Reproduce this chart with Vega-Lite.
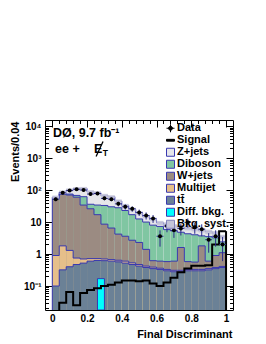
{
  "$schema": "https://vega.github.io/schema/vega-lite/v6.json",
  "width": 188,
  "height": 190,
  "autosize": {"type": "none"},
  "padding": {"left": 45, "top": 120, "right": 33, "bottom": 34},
  "background": "white",
  "config": {
    "view": {"stroke": null},
    "font": "Liberation Sans",
    "axis": {"grid": false, "domainColor": "black", "domainWidth": 1, "tickColor": "black", "tickWidth": 1, "labelColor": "black", "titleColor": "black", "labelFont": "Liberation Sans", "titleFont": "Liberation Sans", "labelFontWeight": "bold", "titleFontWeight": "bold", "zindex": 1, "labelFlush": false, "labelOverlap": false, "labelBound": false},
    "legend": {"orient": "none", "legendX": 120, "legendY": 3, "title": null, "padding": 0, "offset": 0, "labelFont": "Liberation Sans", "labelFontSize": 11, "labelFontWeight": "bold", "labelColor": "black", "labelOffset": 1, "symbolSize": 64, "symbolStrokeWidth": 1, "rowPadding": 0, "clipHeight": 10.5, "labelBaseline": "middle"}
  },
  "data": {"values": [
    {"lo":0,"hi":0.04,"c":0.02,"Z+jets":60,"Diboson":56,"W+jets":54,"Multijet":0.9,"tt̄":0.10,"sig":0.015,"data":52,"dlo":44.8,"dhi":59.2,"slo":52.8,"shi":67.2},
    {"lo":0.04,"hi":0.08,"c":0.06,"Z+jets":86,"Diboson":78,"W+jets":74,"Multijet":1.8,"tt̄":0.32,"sig":0.03,"data":82,"dlo":72.9,"dhi":91.1,"slo":75.7,"shi":96.3},
    {"lo":0.08,"hi":0.12,"c":0.10,"Z+jets":100,"Diboson":75,"W+jets":70,"Multijet":1.3,"tt̄":0.40,"sig":0.065,"data":97,"dlo":87.2,"dhi":106.8,"slo":88,"shi":112},
    {"lo":0.12,"hi":0.16,"c":0.14,"Z+jets":110,"Diboson":68,"W+jets":60,"Multijet":0.75,"tt̄":0.47,"sig":0.025,"data":106,"dlo":95.7,"dhi":116.3,"slo":96.8,"shi":123.2},
    {"lo":0.16,"hi":0.20,"c":0.18,"Z+jets":112,"Diboson":62,"W+jets":34,"Multijet":0.7,"tt̄":0.52,"sig":0.06,"data":100,"dlo":90,"dhi":110,"slo":98.6,"shi":125.4},
    {"lo":0.20,"hi":0.24,"c":0.22,"Z+jets":88,"Diboson":36,"W+jets":26,"Multijet":0.72,"tt̄":0.60,"sig":0.075,"data":75,"dlo":66.3,"dhi":83.7,"slo":77.4,"shi":98.6},
    {"lo":0.24,"hi":0.28,"c":0.26,"Z+jets":82,"Diboson":34,"W+jets":17,"Multijet":0.72,"tt̄":0.63,"sig":0.085,"data":78,"dlo":69.2,"dhi":86.8,"slo":72.2,"shi":91.8},
    {"lo":0.28,"hi":0.32,"c":0.30,"Z+jets":68,"Diboson":33,"W+jets":8.6,"Multijet":0.70,"tt̄":0.62,"sig":0.10,"data":55,"dlo":47.6,"dhi":62.4,"slo":59.8,"shi":76.2},
    {"lo":0.32,"hi":0.36,"c":0.34,"Z+jets":62,"Diboson":30,"W+jets":6.5,"Multijet":0.67,"tt̄":0.60,"sig":0.11,"data":52,"dlo":44.8,"dhi":59.2,"slo":54.6,"shi":69.4},
    {"lo":0.36,"hi":0.40,"c":0.38,"Z+jets":45,"Diboson":28,"W+jets":4.2,"Multijet":0.64,"tt̄":0.57,"sig":0.13,"data":37,"dlo":30.9,"dhi":43.1,"slo":39.6,"shi":50.4},
    {"lo":0.40,"hi":0.44,"c":0.42,"Z+jets":33,"Diboson":23,"W+jets":3.6,"Multijet":0.60,"tt̄":0.52,"sig":0.15,"data":30,"dlo":24.5,"dhi":35.5,"slo":29,"shi":37},
    {"lo":0.44,"hi":0.48,"c":0.46,"Z+jets":25,"Diboson":17,"W+jets":2.7,"Multijet":0.53,"tt̄":0.47,"sig":0.15,"data":26,"dlo":20.9,"dhi":31.1,"slo":22,"shi":28},
    {"lo":0.48,"hi":0.52,"c":0.50,"Z+jets":19,"Diboson":12.5,"W+jets":2.3,"Multijet":0.47,"tt̄":0.42,"sig":0.14,"data":20,"dlo":15.5,"dhi":24.5,"slo":16.7,"shi":21.3},
    {"lo":0.52,"hi":0.56,"c":0.54,"Z+jets":15,"Diboson":10,"W+jets":1.4,"Multijet":0.42,"tt̄":0.38,"sig":0.15,"data":16,"dlo":12,"dhi":20,"slo":13.2,"shi":16.8},
    {"lo":0.56,"hi":0.60,"c":0.58,"Z+jets":12,"Diboson":8,"W+jets":0.62,"Multijet":0.39,"tt̄":0.35,"sig":0.12,"data":13,"dlo":9.4,"dhi":16.6,"slo":10.6,"shi":13.4},
    {"lo":0.60,"hi":0.64,"c":0.62,"Z+jets":9.5,"Diboson":7.3,"W+jets":0.6,"Multijet":0.36,"tt̄":0.33,"sig":0.10,"data":3.6,"dlo":1.7,"dhi":5.5,"slo":8.1,"shi":10.9},
    {"lo":0.64,"hi":0.68,"c":0.66,"Z+jets":8.5,"Diboson":5.8,"W+jets":0.58,"Multijet":0.33,"tt̄":0.30,"sig":0.13,"data":7.5,"dlo":4.8,"dhi":10.2,"slo":7.2,"shi":9.8},
    {"lo":0.68,"hi":0.72,"c":0.70,"Z+jets":7.5,"Diboson":5.3,"W+jets":0.6,"Multijet":0.31,"tt̄":0.28,"sig":0.18,"data":5.5,"dlo":3.2,"dhi":7.9,"slo":6.4,"shi":8.6},
    {"lo":0.72,"hi":0.76,"c":0.74,"Z+jets":7,"Diboson":4.8,"W+jets":1.6,"Multijet":0.31,"tt̄":0.28,"sig":0.27,"data":6.3,"dlo":3.8,"dhi":8.8,"slo":5.9,"shi":8.1},
    {"lo":0.76,"hi":0.80,"c":0.78,"Z+jets":6.5,"Diboson":4.3,"W+jets":0.58,"Multijet":0.33,"tt̄":0.30,"sig":0.35,"data":9.8,"dlo":6.7,"dhi":12.9,"slo":5.5,"shi":7.5},
    {"lo":0.80,"hi":0.84,"c":0.82,"Z+jets":6,"Diboson":4.0,"W+jets":0.56,"Multijet":0.33,"tt̄":0.30,"sig":0.43,"data":6.9,"dlo":4.3,"dhi":9.5,"slo":5.1,"shi":6.9},
    {"lo":0.84,"hi":0.88,"c":0.86,"Z+jets":5.5,"Diboson":3.7,"W+jets":1.8,"Multijet":0.33,"tt̄":0.30,"sig":0.43,"data":6,"dlo":3.6,"dhi":8.5,"slo":4.7,"shi":6.3},
    {"lo":0.88,"hi":0.92,"c":0.90,"Z+jets":5,"Diboson":3.5,"W+jets":0.6,"Multijet":0.35,"tt̄":0.32,"sig":0.45,"data":2.8,"dlo":1.1,"dhi":4.5,"slo":4.2,"shi":5.8},
    {"lo":0.92,"hi":0.96,"c":0.94,"Z+jets":4.5,"Diboson":3.2,"W+jets":0.9,"Multijet":0.38,"tt̄":0.35,"sig":2.0,"data":3.6,"dlo":1.7,"dhi":5.5,"slo":3.8,"shi":5.2},
    {"lo":0.96,"hi":1.00,"c":0.98,"Z+jets":3.5,"Diboson":2.4,"W+jets":1.1,"Multijet":0.41,"tt̄":0.38,"sig":5.2,"data":2.0,"dlo":0.6,"dhi":3.4,"slo":3.0,"shi":4.0}
  ]},
  "resolve": {"axis": {"x": "independent", "y": "independent"}},
  "layer": [
    {
      "transform": [{"fold": ["Z+jets", "Diboson", "W+jets", "Multijet", "tt̄"], "as": ["proc", "n"]}],
      "mark": {"type": "rect", "clip": true},
      "encoding": {
        "x": {"field": "lo", "type": "quantitative", "scale": {"domain": [-0.042, 1.04], "nice": false, "zero": false},
          "axis": {"orient": "bottom", "values": [0,0.04,0.08,0.12,0.16,0.2,0.24,0.28,0.32,0.36,0.4,0.44,0.48,0.52,0.56,0.6,0.64,0.68,0.72,0.76,0.8,0.84,0.88,0.92,0.96,1], "format": "~g",
            "labelExpr": "abs(datum.value*5-round(datum.value*5))<0.000001 ? datum.label : ''",
            "tickSize": {"condition": {"test": "abs(datum.value*5-round(datum.value*5))<0.000001", "value": -7}, "value": -3.5},
            "labelPadding": 10, "labelFontSize": 10,
            "title": "Final Discriminant", "titleFontSize": 11, "titleAlign": "right", "titleBaseline": "alphabetic", "titleX": 187, "titleY": 27}},
        "x2": {"field": "hi"},
        "y": {"field": "n", "type": "quantitative", "stack": null, "scale": {"type": "log", "domain": [0.0178, 15500], "nice": false},
          "axis": {"orient": "left", "values": [0.02,0.03,0.04,0.05,0.06,0.07,0.08,0.09,0.1,0.2,0.3,0.4,0.5,0.6,0.7,0.8,0.9,1,2,3,4,5,6,7,8,9,10,20,30,40,50,60,70,80,90,100,200,300,400,500,600,700,800,900,1000,2000,3000,4000,5000,6000,7000,8000,9000,10000],
            "labelExpr": "abs(log(datum.value)/LN10-round(log(datum.value)/LN10))<0.000001 ? (datum.value > 5000 ? '10⁴' : datum.value > 500 ? '10³' : datum.value > 50 ? '10²' : datum.value > 5 ? '10' : datum.value > 0.5 ? '1' : '10⁻¹') : ''",
            "tickSize": {"condition": {"test": "abs(log(datum.value)/LN10-round(log(datum.value)/LN10))<0.000001", "value": -7}, "value": -3.5},
            "labelPadding": 11, "labelFontSize": 10,
            "title": "Events/0.04", "titleFontSize": 11, "titleAngle": 270, "titleAlign": "right", "titleBaseline": "alphabetic", "titleX": -27, "titleY": 1}},
        "y2": {"datum": 0.0178},
        "color": {"field": "proc", "type": "nominal", "legend": null,
          "scale": {"domain": ["Z+jets", "Diboson", "W+jets", "Multijet", "tt̄"],
                    "range": ["#e6e6ea", "#80c6a2", "#9b8b82", "#e6bf8a", "#6b8196"]}}
      }
    },
    {
      "transform": [{"fold": ["Z+jets", "Diboson", "W+jets", "Multijet", "tt̄"], "as": ["proc", "n"]}, {"fold": ["lo", "hi"], "as": ["edge", "xe"]}],
      "mark": {"type": "line", "clip": true, "color": "#3838b0", "strokeWidth": 1},
      "encoding": {
        "x": {"field": "xe", "type": "quantitative", "axis": null},
        "y": {"field": "n", "type": "quantitative", "axis": null},
        "detail": {"field": "proc"},
        "order": [{"field": "lo", "type": "quantitative"}, {"field": "edge", "sort": "descending"}]
      }
    },
    {
      "transform": [{"filter": "datum.lo == 0"}],
      "mark": {"type": "rule", "clip": true, "color": "#3838b0", "strokeWidth": 1},
      "encoding": {
        "x": {"field": "lo", "type": "quantitative", "axis": null},
        "y": {"field": "Z+jets", "type": "quantitative", "axis": null},
        "y2": {"datum": 0.0178}
      }
    },
    {
      "mark": {"type": "rect", "clip": true, "color": "#c4c4d8", "opacity": 0.9},
      "encoding": {
        "x": {"field": "lo", "type": "quantitative", "axis": null},
        "x2": {"field": "hi"},
        "y": {"field": "slo", "type": "quantitative", "axis": null},
        "y2": {"field": "shi"}
      }
    },
    {
      "data": {"values": [{"lo": 0.26, "hi": 0.30, "n": 0.17}]},
      "mark": {"type": "rect", "clip": true, "fill": "#00ffff", "stroke": "#3838b0", "strokeWidth": 1},
      "encoding": {
        "x": {"field": "lo", "type": "quantitative", "axis": null},
        "x2": {"field": "hi"},
        "y": {"field": "n", "type": "quantitative", "axis": null},
        "y2": {"datum": 0.0178}
      }
    },
    {
      "transform": [{"fold": ["lo", "hi"], "as": ["edge", "xe"]}],
      "mark": {"type": "line", "clip": true, "color": "#000000", "strokeWidth": 2},
      "encoding": {
        "x": {"field": "xe", "type": "quantitative", "axis": null},
        "y": {"field": "sig", "type": "quantitative", "axis": null},
        "order": [{"field": "lo", "type": "quantitative"}, {"field": "edge", "sort": "descending"}]
      }
    },
    {
      "transform": [{"filter": "datum.hi > 0.999"}],
      "mark": {"type": "rule", "clip": true, "color": "#000000", "strokeWidth": 2},
      "encoding": {
        "x": {"field": "hi", "type": "quantitative", "axis": null},
        "y": {"field": "sig", "type": "quantitative", "axis": null},
        "y2": {"datum": 0.0178}
      }
    },
    {
      "mark": {"type": "rule", "clip": true, "color": "#2b2b8c", "strokeWidth": 1},
      "encoding": {
        "x": {"field": "lo", "type": "quantitative", "axis": null},
        "x2": {"field": "hi"},
        "y": {"field": "data", "type": "quantitative", "axis": null}
      }
    },
    {
      "mark": {"type": "rule", "clip": true, "color": "#2b2b8c", "strokeWidth": 1},
      "encoding": {
        "x": {"field": "c", "type": "quantitative", "axis": null},
        "y": {"field": "dlo", "type": "quantitative", "axis": null},
        "y2": {"field": "dhi"}
      }
    },
    {
      "mark": {"type": "point", "filled": true, "shape": "circle", "size": 16, "color": "#000000", "opacity": 1, "clip": true},
      "encoding": {
        "x": {"field": "c", "type": "quantitative",
          "axis": {"orient": "top", "values": [0,0.04,0.08,0.12,0.16,0.2,0.24,0.28,0.32,0.36,0.4,0.44,0.48,0.52,0.56,0.6,0.64,0.68,0.72,0.76,0.8,0.84,0.88,0.92,0.96,1], "labels": false, "title": null,
            "tickSize": {"condition": {"test": "abs(datum.value*5-round(datum.value*5))<0.000001", "value": -7}, "value": -3.5}}},
        "y": {"field": "data", "type": "quantitative",
          "axis": {"orient": "right", "values": [0.02,0.03,0.04,0.05,0.06,0.07,0.08,0.09,0.1,0.2,0.3,0.4,0.5,0.6,0.7,0.8,0.9,1,2,3,4,5,6,7,8,9,10,20,30,40,50,60,70,80,90,100,200,300,400,500,600,700,800,900,1000,2000,3000,4000,5000,6000,7000,8000,9000,10000], "labels": false, "title": null,
            "tickSize": {"condition": {"test": "abs(log(datum.value)/LN10-round(log(datum.value)/LN10))<0.000001", "value": -7}, "value": -3.5}}}
      }
    },
    {
      "data": {"values": [{"name": "Data"}, {"name": "Signal"}, {"name": "Z+jets"}, {"name": "Diboson"}, {"name": "W+jets"}, {"name": "Multijet"}, {"name": "tt̄"}, {"name": "Diff. bkg."}, {"name": "Bkg. syst."}]},
      "mark": {"type": "point", "filled": true, "clip": true, "strokeWidth": 1, "opacity": 1},
      "encoding": {
        "x": {"datum": -5, "type": "quantitative", "axis": null},
        "y": {"datum": 1, "type": "quantitative", "axis": null},
        "fill": {"field": "name", "type": "nominal",
          "scale": {"domain": ["Data", "Signal", "Z+jets", "Diboson", "W+jets", "Multijet", "tt̄", "Diff. bkg.", "Bkg. syst."],
                    "range": ["#000000", "#000000", "#e6e6ea", "#80c6a2", "#9b8b82", "#e6bf8a", "#6b8196", "#00ffff", "#c4c4d8"]},
          "legend": {"rowPadding": 0, "clipHeight": 10.5, "labelFontSize": 11, "legendX": 120, "legendY": 3}},
        "stroke": {"field": "name", "type": "nominal",
          "scale": {"domain": ["Data", "Signal", "Z+jets", "Diboson", "W+jets", "Multijet", "tt̄", "Diff. bkg.", "Bkg. syst."],
                    "range": ["#000000", "#000000", "#3838b0", "#3838b0", "#3838b0", "#3838b0", "#3838b0", "#3838b0", "#8080b8"]},
          "legend": {"rowPadding": 0, "clipHeight": 10.5, "labelFontSize": 11, "legendX": 120, "legendY": 3}},
        "shape": {"field": "name", "type": "nominal",
          "scale": {"domain": ["Data", "Signal", "Z+jets", "Diboson", "W+jets", "Multijet", "tt̄", "Diff. bkg.", "Bkg. syst."],
                    "range": ["M-0.5,0A0.5,0.5 0 1,0 0.5,0A0.5,0.5 0 1,0 -0.5,0ZM0,-1L0,1M-1,0L1,0", "M-1,-0.22L1,-0.22L1,0.22L-1,0.22Z", "square", "square", "square", "square", "square", "square", "square"]},
          "legend": {"rowPadding": 0, "clipHeight": 10.5, "labelFontSize": 11, "legendX": 120, "legendY": 3}}
      }
    },
    {
      "data": {"values": [{"t": "DØ, 9.7 fb⁻¹"}]},
      "mark": {"type": "text", "align": "left", "baseline": "alphabetic", "font": "Liberation Sans", "fontSize": 12.5, "fontWeight": "bold", "color": "#000000"},
      "encoding": {
        "x": {"datum": 0.004, "type": "quantitative", "axis": null},
        "y": {"datum": 4530, "type": "quantitative", "axis": null},
        "text": {"field": "t"}
      }
    },
    {
      "data": {"values": [{"t": "ee +"}]},
      "mark": {"type": "text", "align": "left", "baseline": "alphabetic", "font": "Liberation Sans", "fontSize": 12.5, "fontWeight": "bold", "color": "#000000"},
      "encoding": {
        "x": {"datum": 0.016, "type": "quantitative", "axis": null},
        "y": {"datum": 1430, "type": "quantitative", "axis": null},
        "text": {"field": "t"}
      }
    },
    {
      "data": {"values": [{"t": "E"}]},
      "mark": {"type": "text", "align": "left", "baseline": "alphabetic", "font": "Liberation Sans", "fontSize": 12.5, "fontWeight": "bold", "color": "#000000"},
      "encoding": {
        "x": {"datum": 0.24, "type": "quantitative", "axis": null},
        "y": {"datum": 1430, "type": "quantitative", "axis": null},
        "text": {"field": "t"}
      }
    },
    {
      "data": {"values": [{}]},
      "mark": {"type": "rule", "color": "#000000", "strokeWidth": 1.3},
      "encoding": {
        "x": {"datum": 0.252, "type": "quantitative", "axis": null},
        "y": {"datum": 1120, "type": "quantitative", "axis": null},
        "x2": {"datum": 0.292},
        "y2": {"datum": 3300}
      }
    },
    {
      "data": {"values": [{"t": "T"}]},
      "mark": {"type": "text", "align": "left", "baseline": "alphabetic", "font": "Liberation Sans", "fontSize": 8.5, "fontWeight": "bold", "color": "#000000"},
      "encoding": {
        "x": {"datum": 0.29, "type": "quantitative", "axis": null},
        "y": {"datum": 1155, "type": "quantitative", "axis": null},
        "text": {"field": "t"}
      }
    }
  ]
}
